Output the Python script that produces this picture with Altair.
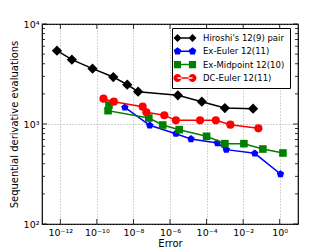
import altair as alt
import pandas as pd

series_names = ["Hiroshi's 12(9) pair", "Ex-Euler 12(11)", "Ex-Midpoint 12(10)", "DC-Euler 12(11)"]
series_colors = ["#000000", "#0000ff", "#008000", "#ff0000"]

hiroshi_err = [6.6e-13, 4.3e-12, 5.8e-11, 7.9e-10, 4.6e-9, 1.8e-8, 2.7e-6, 5.5e-5, 1.0e-3, 3.5e-2]
hiroshi_eval = [5410, 4400, 3575, 2950, 2475, 2105, 1935, 1672, 1445, 1424]

exeuler_err = [3.4e-9, 7.8e-8, 2.1e-6, 1.4e-5, 3.9e-4, 1.2e-3, 4.3e-2, 1.1]
exeuler_eval = [1468, 970, 800, 708, 645, 554, 509, 316]

exmid_err = [4.6e-10, 4.1e-10, 6.9e-8, 4.0e-7, 3.2e-6, 1.0e-4, 1.0e-3, 1.1e-2, 0.12, 1.5]
exmid_eval = [1549, 1359, 1148, 977, 878, 753, 636, 636, 562, 513]

dceuler_err = [2.3e-10, 8.5e-10, 3.2e-8, 5.1e-8, 4.9e-7, 2.1e-6, 4.4e-5, 3.2e-4, 2.0e-3, 6.8e-2]
dceuler_eval = [1792, 1672, 1490, 1309, 1222, 1088, 1088, 1088, 985, 905]

x_tick_values = [1e-12, 1e-10, 1e-8, 1e-6, 1e-4, 1e-2, 1e0]
x_tick_labels = ["10⁻¹²", "10⁻¹⁰", "10⁻⁸", "10⁻⁶", "10⁻⁴", "10⁻²", "10⁰"]
y_tick_values = [100, 1000, 10000]
y_tick_labels = ["10²", "10³", "10⁴"]
y_minor_ticks = [200, 300, 400, 500, 600, 700, 800, 900,
                 2000, 3000, 4000, 5000, 6000, 7000, 8000, 9000]

# plot marker shapes (unit paths) and legend symbols
pentagon = "M0,-1L0.951,-0.309L0.588,0.809L-0.588,0.809L-0.951,-0.309Z"
plot_shapes = ["diamond", pentagon, "square", "circle"]
plot_sizes = [105, 60, 58, 66]


def legend_path(kind, a=-0.9, b=2.1, s=0.8):
    line = f"M{a},-0.15L{b},-0.15L{b},0.15L{a},0.15Z"
    parts = [line]
    for c in (a, b):
        if kind == "diamond":
            parts.append(f"M{c - s},0L{c},{-s}L{c + s},0L{c},{s}Z")
        elif kind == "square":
            q = s * 0.9
            parts.append(f"M{c - q},{-q}L{c + q},{-q}L{c + q},{q}L{c - q},{q}Z")
        elif kind == "circle":
            parts.append(f"M{c - s},0A{s},{s} 0 1,0 {c + s},0A{s},{s} 0 1,0 {c - s},0Z")
        else:
            r = s
            pts = [(0, -1), (0.951, -0.309), (0.588, 0.809), (-0.588, 0.809), (-0.951, -0.309)]
            p = "M" + "L".join(f"{c + r * px:.3f},{r * py:.3f}" for px, py in pts) + "Z"
            parts.append(p)
    return "".join(parts)


legend_shapes = [legend_path(k) for k in ["diamond", "pentagon", "square", "circle"]]

errs = [hiroshi_err, exeuler_err, exmid_err, dceuler_err]
evals = [hiroshi_eval, exeuler_eval, exmid_eval, dceuler_eval]

rows = []
for i, name in enumerate(series_names):
    for j, (e, v) in enumerate(zip(errs[i], evals[i])):
        rows.append({"series": name, "err": e, "evals": v, "idx": j})
df = pd.DataFrame(rows)

yminor_df = pd.DataFrame({"evals": y_minor_ticks})
ymajor_df = pd.DataFrame({"evals": y_tick_values})
xmajor_df = pd.DataFrame({"err": x_tick_values})


def ternary(values, labels):
    expr = f"'{labels[-1]}'"
    for v, l in reversed(list(zip(values[:-1], labels[:-1]))):
        expr = f"datum.value < {v * 3.0} ? '{l}' : " + expr
    return expr


x_scale = alt.Scale(type="log", domain=[1e-13, 1e1], nice=False)
y_scale = alt.Scale(type="log", domain=[100, 10000], nice=False)

x_enc = alt.X("err:Q", scale=x_scale,
              axis=alt.Axis(values=x_tick_values, labelExpr=ternary(x_tick_values, x_tick_labels),
                            title="Error", grid=True))
y_enc = alt.Y("evals:Q", scale=y_scale,
              axis=alt.Axis(values=y_tick_values, labelExpr=ternary(y_tick_values, y_tick_labels),
                            title="Sequential derivative evaluations", grid=True))

layers = []

# inward ticks (matplotlib classic style)
for xpos in (1.5, 254.5):
    layers.append(alt.Chart(yminor_df).mark_tick(orient="horizontal", size=3, thickness=0.8,
                                                  color="black", opacity=1).encode(
        y=alt.Y("evals:Q", scale=y_scale), x=alt.value(xpos)))
for xpos in (2.5, 253.5):
    layers.append(alt.Chart(ymajor_df).mark_tick(orient="horizontal", size=5, thickness=0.8,
                                                  color="black", opacity=1).encode(
        y=alt.Y("evals:Q", scale=y_scale), x=alt.value(xpos)))
for ypos in (2.5, 197.5):
    layers.append(alt.Chart(xmajor_df).mark_tick(orient="vertical", size=5, thickness=0.8,
                                                  color="black", opacity=1).encode(
        x=alt.X("err:Q", scale=x_scale), y=alt.value(ypos)))

for i, name in enumerate(series_names):
    sub = alt.Chart(df).transform_filter(alt.datum.series == name)
    line = sub.mark_line(color=series_colors[i], strokeWidth=1.5).encode(
        x=x_enc, y=y_enc, order="idx:Q")
    pts = sub.mark_point(filled=True, opacity=1, size=plot_sizes[i],
                         color=series_colors[i], shape=plot_shapes[i]).encode(x=x_enc, y=y_enc)
    layers += [line, pts]

legend_layer = alt.Chart(df).transform_filter("false").mark_point(filled=True, opacity=1).encode(
    x=x_enc, y=y_enc,
    color=alt.Color("series:N", scale=alt.Scale(domain=series_names, range=series_colors),
                    legend=alt.Legend(title=None, orient="none", legendX=130, legendY=4,
                                      symbolSize=100, symbolStrokeWidth=0, labelOffset=16,
                                      padding=5, rowPadding=3.3, labelFontSize=8.5,
                                      labelFont="DejaVu Sans", strokeColor="black",
                                      fillColor="white", labelColor="black")),
    shape=alt.Shape("series:N", scale=alt.Scale(domain=series_names, range=legend_shapes)),
)

chart = alt.layer(*layers, legend_layer).properties(
    width=256, height=200,
    padding={"left": 34, "top": 16, "right": 26, "bottom": 25},
    autosize=alt.AutoSizeParams(type="none"),
).configure_view(stroke="black", strokeWidth=1.2).configure_axis(
    domain=False, ticks=False, labelFont="DejaVu Sans", titleFont="DejaVu Sans",
    labelFontSize=9.5, titleFontSize=10, titleFontWeight="normal", labelColor="black",
    titleColor="black", gridColor="#888888", gridDash=[1, 2], gridWidth=0.7, labelPadding=3,
).configure_axisX(titlePadding=2).configure_axisY(titlePadding=4)

chart.save("out.html", embed_options={"renderer": "svg", "actions": False})
